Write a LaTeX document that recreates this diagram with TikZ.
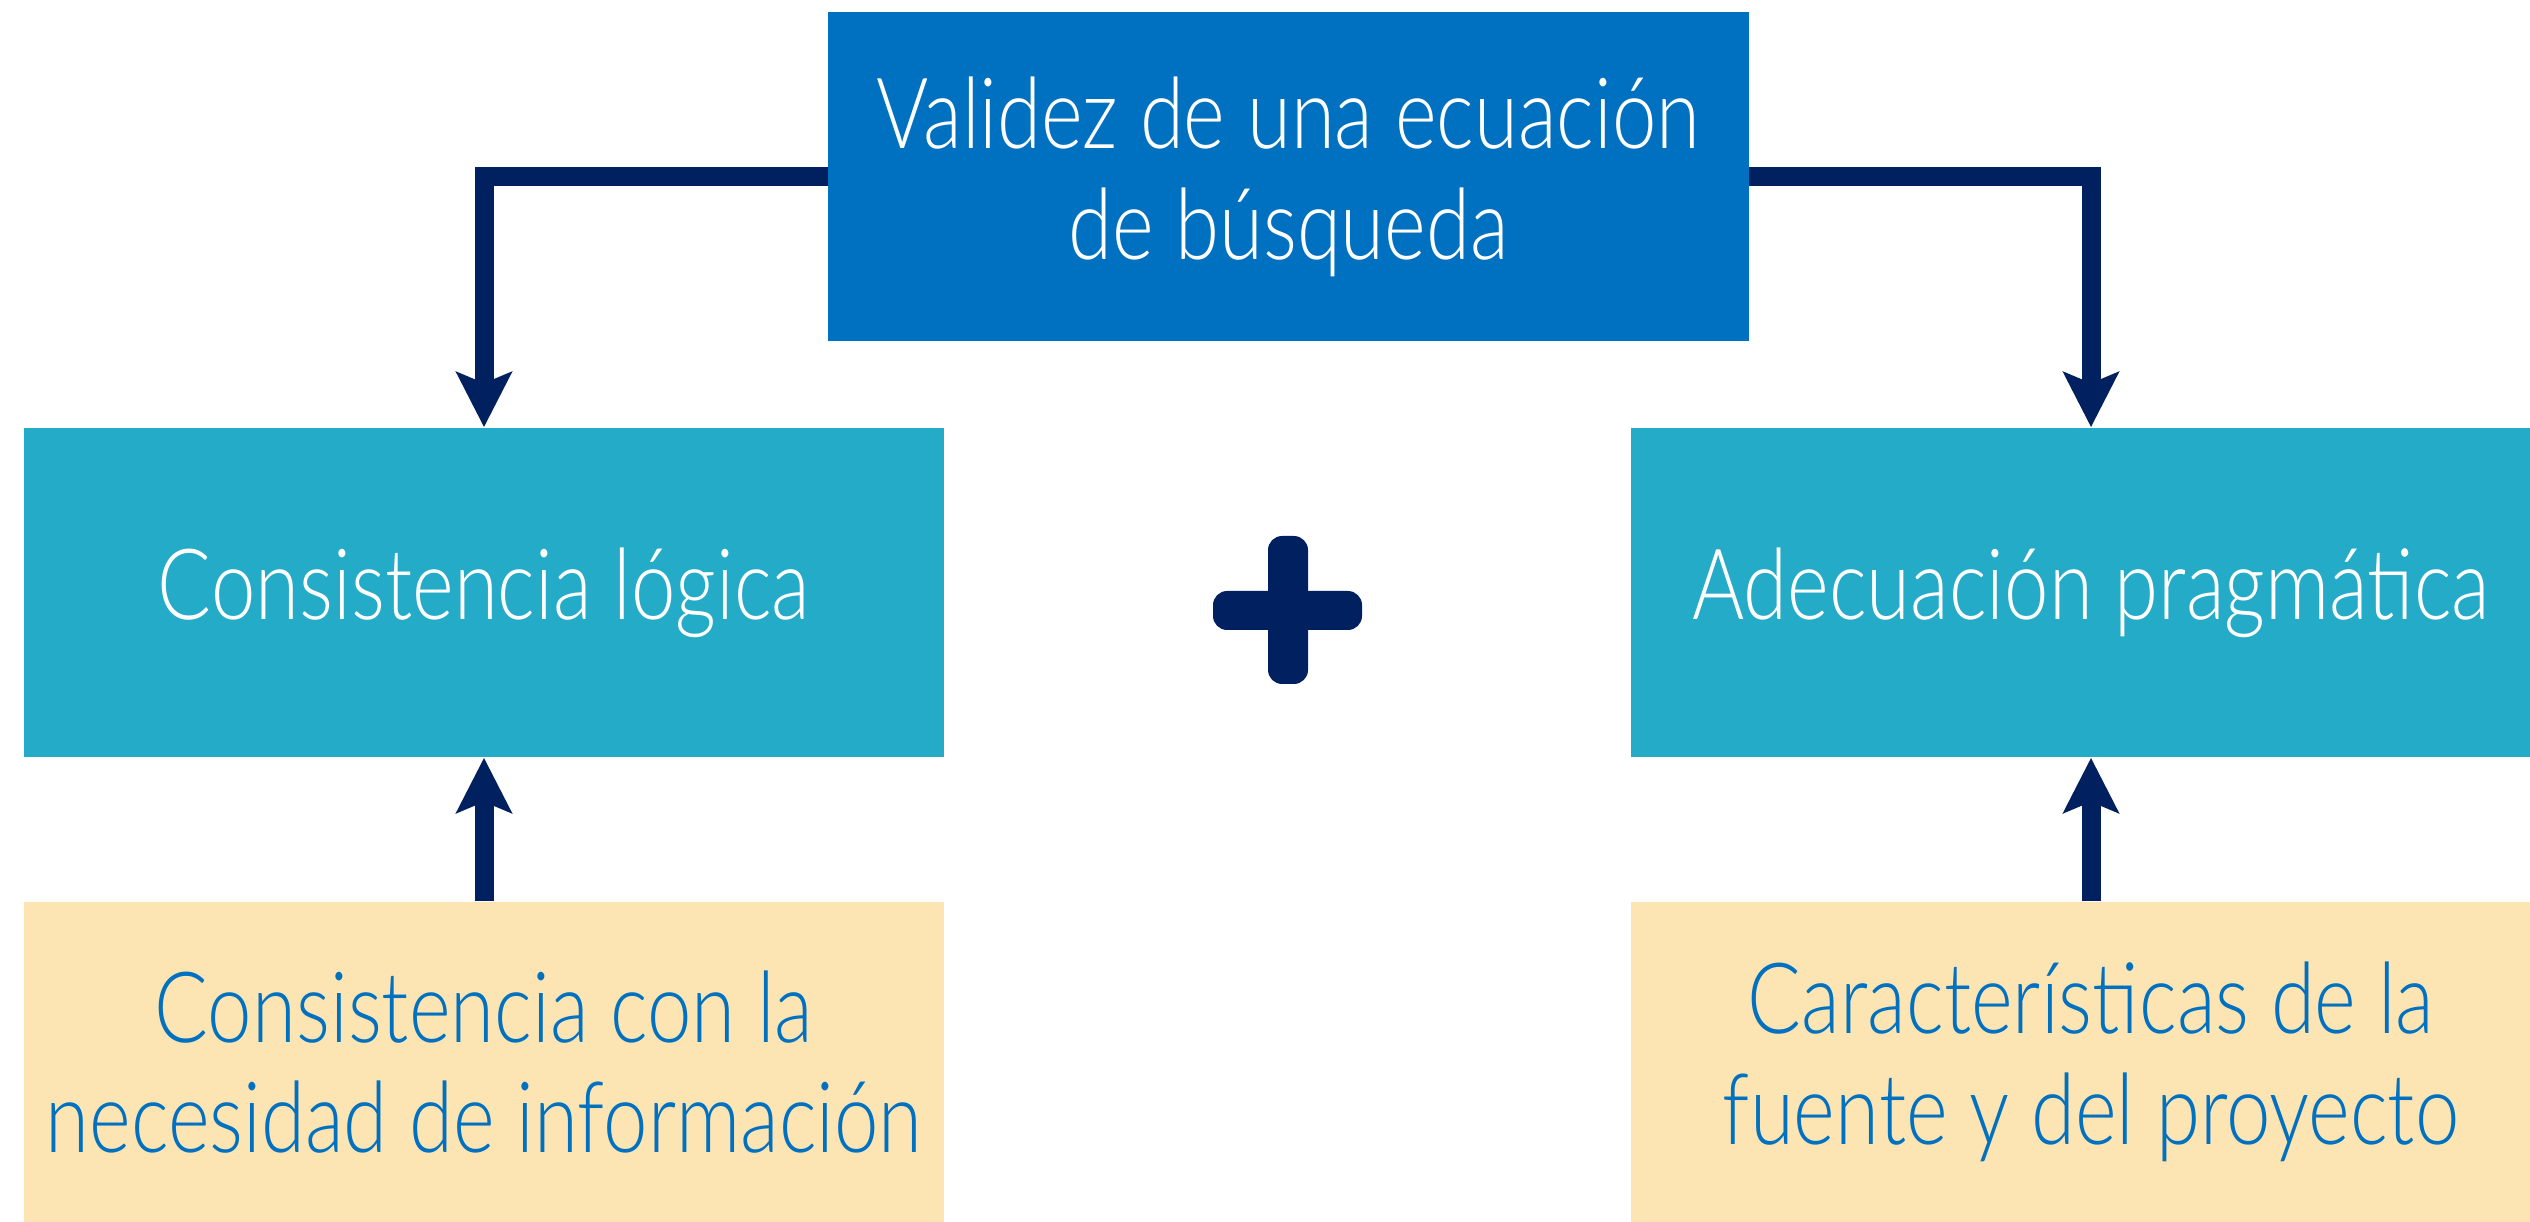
\documentclass[tikz,border=0pt]{standalone}
\usepackage{fontspec}
\setmainfont{Lato Light}[FakeStretch=0.81]
\usepackage{xcolor}
\usetikzlibrary{positioning,arrows.meta}
\definecolor{topblue}{RGB}{0,112,192}
\definecolor{midteal}{RGB}{36,171,200}
\definecolor{lowsand}{RGB}{252,229,178}
\definecolor{navyc}{RGB}{0,32,96}
\tikzset{
	box/.style={
		minimum width=9.2cm,
		minimum height=3.29cm,
		inner sep=0pt,
		align=center,
		font=\fontsize{28}{31.5}\selectfont
	},
	topbox/.style={box, fill=topblue, text=white},
	midbox/.style={box, fill=midteal, text=white},
	lowbox/.style={box, fill=lowsand, text=topblue, minimum height=3.2cm},
	conn/.style={navyc, line width=5.4pt, -{Stealth[length=15.6pt, width=15.6pt, inset=3.1pt]}},
}

\begin{document}
\begin{tikzpicture}[x=0.01cm, y=-0.01cm]
		\useasboundingbox (0,0) rectangle (2530,1222);
		
		% ------------------- Top: Validez -------------------
		\node[topbox] (valid) at (1288.5,176.5) {Validez de una ecuación\\de búsqueda};
		
		% ------------------- Middle row -------------------
		\node[midbox] (logica) at (484,592.5) {Consistencia lógica};
		\node[midbox] (pragma) at (2091,592.5) {Adecuación pragmática};
		
		% plus sign between the two
		\fill[navyc, rounded corners=4pt] (1268,536) rectangle (1308,684);
		\fill[navyc, rounded corners=4pt] (1213,591) rectangle (1362,630);
		
		% ------------------- Bottom row -------------------
		\node[lowbox] (necesidad) at (484,1062) {Consistencia con la\\necesidad de información};
		\node[lowbox] (fuente) at (2091,1062) {Características de la\\fuente y del proyecto};
		
		% ------------------- Connectors -------------------
		\draw[conn] (valid.west) -| (logica.north);
		\draw[conn] (valid.east) -| (pragma.north);
		\draw[conn] (necesidad.north) -- (logica.south);
		\draw[conn] (fuente.north) -- (pragma.south);
		
	\end{tikzpicture}
\end{document}
